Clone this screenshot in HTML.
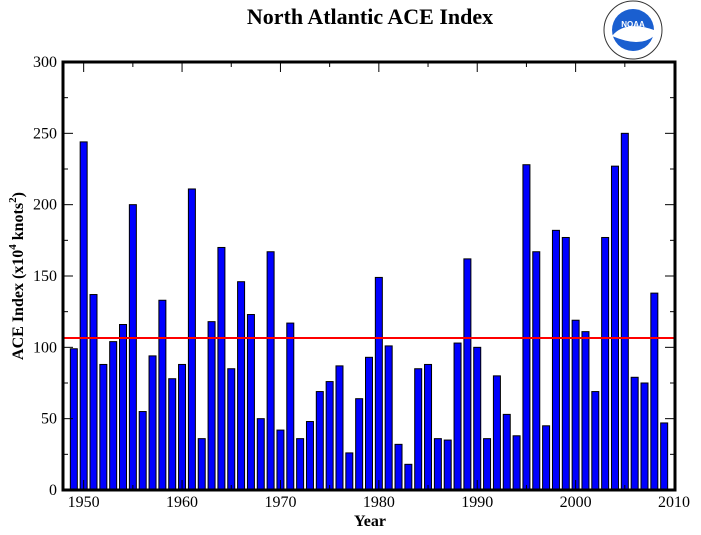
<!DOCTYPE html>
<html><head><meta charset="utf-8"><style>
html,body{margin:0;padding:0;background:#fff;}
svg{display:block;font-family:"Liberation Serif",serif;}
</style></head><body>
<svg id="chart" width="701" height="535" viewBox="0 0 701 535">
<text x="370" y="24" text-anchor="middle" font-size="22" font-weight="bold">North Atlantic ACE Index</text>
<g>
<circle cx="633" cy="30" r="29" fill="#fff" stroke="#333" stroke-width="1"/>
<circle cx="633" cy="30" r="21" fill="#1a5fd0"/>
<path d="M612,36 Q625,20 654,30 L654,36 Q640,48 612,36Z" fill="#fff"/>
<text x="633" y="27" text-anchor="middle" font-size="8" fill="#fff" font-family="Liberation Sans,sans-serif" font-weight="bold">NOAA</text>
</g>
<g id="plot"></g>
<text x="370" y="526" text-anchor="middle" font-size="16" font-weight="bold">Year</text>
<text transform="translate(23,276) rotate(-90)" text-anchor="middle" font-size="16" font-weight="bold">ACE Index (x10<tspan font-size="11" dy="-7">4</tspan><tspan dy="7"> knots</tspan><tspan font-size="11" dy="-7">2</tspan><tspan dy="7">)</tspan></text>
</svg>
<script>
const years=[1949,1950,1951,1952,1953,1954,1955,1956,1957,1958,1959,1960,1961,1962,1963,1964,1965,1966,1967,1968,1969,1970,1971,1972,1973,1974,1975,1976,1977,1978,1979,1980,1981,1982,1983,1984,1985,1986,1987,1988,1989,1990,1991,1992,1993,1994,1995,1996,1997,1998,1999,2000,2001,2002,2003,2004,2005,2006,2007,2008,2009];
const aceValues=[99,244,137,88,104,116,200,55,94,133,78,88,211,36,118,170,85,146,123,50,167,42,117,36,48,69,76,87,26,64,93,149,101,32,18,85,88,36,35,103,162,100,36,80,53,38,228,167,45,182,177,119,111,69,177,227,250,79,75,138,47];
const meanValue=[106.5];
const yTicks=[0,50,100,150,200,250,300];
const xTicks=[1950,1960,1970,1980,1990,2000,2010];
const L=63,R=675,T=62,B=490,x0=1947.9,x1=2010.1,yMax=300;
const NS="http://www.w3.org/2000/svg";
const g=document.getElementById('plot');
function X(v){return L+(v-x0)/(x1-x0)*(R-L);}
function Y(v){return B-v/yMax*(B-T);}
function el(t,a){const e=document.createElementNS(NS,t);for(const k in a)e.setAttribute(k,a[k]);g.appendChild(e);return e;}
years.forEach((yr,i)=>{
 const r=el('rect',{x:X(yr)-3.5,y:Y(aceValues[i]),width:7,height:B-Y(aceValues[i]),fill:'#0000ff',stroke:'#000','stroke-width':1});
 
 
});
const ml=el('line',{x1:L,x2:R,y1:Y(meanValue[0]),y2:Y(meanValue[0]),stroke:'#ff0000','stroke-width':2});


for(let v=0;v<=300;v+=25){const y=Y(v),len=v%50===0?10:5;
 el('line',{x1:L,x2:L+len,y1:y,y2:y,stroke:'#000','stroke-width':1});
 el('line',{x1:R-len,x2:R,y1:y,y2:y,stroke:'#000','stroke-width':1});}
for(let v=1950;v<=2010;v+=5){const x=X(v),len=v%10===0?10:5;
 el('line',{x1:x,x2:x,y1:B,y2:B-len,stroke:'#000','stroke-width':1});
 el('line',{x1:x,x2:x,y1:T,y2:T+len,stroke:'#000','stroke-width':1});}
yTicks.forEach(v=>{const t=el('text',{x:L-6,y:Y(v)+5,'text-anchor':'end','font-size':16});t.textContent=v;
 
 });
xTicks.forEach(v=>{const t=el('text',{x:X(v),y:B+17,'text-anchor':'middle','font-size':16});t.textContent=v;
 
 });
const f=el('rect',{x:L,y:T,width:R-L,height:B-T,fill:'none',stroke:'#000','stroke-width':3});


</script>
</body></html>
